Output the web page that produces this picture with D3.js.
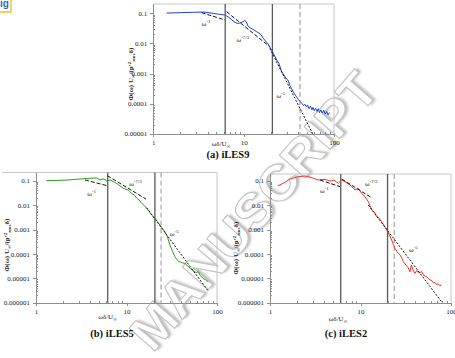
<!DOCTYPE html>
<html lang="en">
<head>
<meta charset="UTF-8">
<title>Wall pressure spectra</title>
<script src="https://d3js.org/d3.v7.min.js"></script>
<style>
  html, body { margin: 0; padding: 0; background: #fff; }
  svg { display: block; font-family: 'Liberation Serif', 'Times New Roman', serif; }
  .axis path, .axis line { stroke: #8e8e8e; shape-rendering: crispEdges; }
  .axis text { font-size: 7px; fill: #222; font-family: 'Liberation Serif', serif; }
</style>
</head>
<body>
<div id="chart"></div>
<script>
// ---- data ----
const xTickLabels = ["1", "10", "100"];
const yTickLabelsA = ["0.1", "0.01", "0.001", "0.0001", "0.00001"];
const yTickLabelsBC = ["0.1", "0.01", "0.001", "0.0001", "0.00001", "0.000001"];
const fitExponents = ["-1", "-7/3", "-5"];

// (a) iLES9
const freqA = [1.4, 2, 2.8, 3.6, 4.6, 5.4, 6.2, 6.8, 7.4, 8.0, 8.6, 9.2, 9.8, 10.3, 10.7, 11.2, 12, 13, 13.9, 14.8,
  15.7, 16.4, 17.5, 18.7, 19.5, 20.3, 21.5, 23.2, 24.5, 26.2, 27.5, 28.6, 30, 31, 32.5, 33.8, 35, 36.5, 38.5, 40,
  41.7, 43, 44.5, 46, 47.5, 49.5, 51, 53, 55, 57, 58.5, 60.5, 62.5, 65, 67, 69, 71.5, 74, 77, 80, 83, 86, 89];
const psdA = [0.102, 0.105, 0.108, 0.11, 0.1, 0.092, 0.088, 0.075, 0.06, 0.05, 0.046, 0.048, 0.052, 0.058, 0.052, 0.037, 0.032, 0.028, 0.0245, 0.022,
  0.019, 0.015, 0.012, 0.0095, 0.0075, 0.006, 0.0045, 0.0028, 0.0022, 0.0012, 0.00095, 0.0008, 0.00065, 0.0006, 0.0004, 0.00032, 0.00026, 0.00021, 0.00017, 0.00014,
  0.00012, 0.00011, 0.0001, 0.000085, 0.000095, 0.000078, 0.00009, 0.000068, 0.000082, 0.000062, 0.000075, 0.000058, 0.00007, 0.000055, 0.000068, 0.00005, 0.000062, 0.000048, 0.00006, 0.000045, 0.000055, 0.000042, 0.00005];
const fitsA = [[3.43, 0.105, 6.2, 0.06], [6.47, 0.113, 19.5, 0.0077], [19.5, 0.0068, 58, 0.00001]];
const fitLabelPosA = [[3.43, 0.0377], [8.35, 0.0113], [23.1, 0.000158]];
const solidLinesA = [6.25, 20.8];
const dashedLineA = [42];

// (b) iLES5
const freqB = [1.3, 2.2, 3.0, 3.9, 4.7, 5.1, 5.5, 5.8, 6.0, 6.6, 7.4, 8.2, 9.2, 10.4, 11.4, 12.2, 13, 13.8, 14.7, 15.7,
  16.7, 17.8, 19, 20.6, 22, 23.4, 25, 26.6, 28.3, 30.2, 32.2, 34.3, 36, 37.5, 39.5, 41.5, 44.3, 47, 50.5, 53,
  56, 59.6, 62, 65, 67.8, 71, 74, 77, 80.2];
const psdB = [0.1, 0.106, 0.117, 0.125, 0.13, 0.107, 0.118, 0.114, 0.096, 0.107, 0.086, 0.068, 0.049, 0.042, 0.03, 0.026, 0.019, 0.016, 0.0118, 0.0098,
  0.0074, 0.0055, 0.0039, 0.0029, 0.0021, 0.0015, 0.0011, 0.00081, 0.0005, 0.00023, 0.00013, 0.000077, 0.00006, 0.000049, 0.000046, 0.000043, 0.000041, 0.000033, 0.000026, 0.000022,
  0.000019, 0.000017, 0.000019, 0.000013, 0.0000115, 0.0000095, 0.000009, 0.0000078, 0.0000074];
const fitsB = [[3.48, 0.107, 6.15, 0.062], [6.15, 0.16, 16.4, 0.0178], [16.7, 0.0078, 80, 0.000003]];
const fitLabelPosB = [[3.69, 0.0242], [10.7, 0.0624], [30.3, 0.00054]];
const solidLinesB = [6.2, 20.6];
const dashedLineB = [24.1];

// (c) iLES2
const freqC = [1.22, 1.4, 1.66, 2.05, 2.44, 2.89, 3.42, 4.05, 4.5, 4.8, 5.1, 5.4, 5.69, 6.2, 6.74, 7.66, 8.7, 9.46, 10.3, 11.2,
  12.2, 13.3, 14.2, 15.1, 16, 17.1, 18.3, 19.5, 20.8, 22.1, 23, 24, 25.5, 27.3, 28.5, 29.8, 31.7, 33.5, 35.2, 36.5,
  38, 40, 42, 44, 47.5, 50, 53, 56.2, 59, 62, 64, 66.5, 69, 72, 75, 78.6];
const psdC = [0.062, 0.078, 0.117, 0.146, 0.156, 0.133, 0.107, 0.114, 0.1, 0.097, 0.107, 0.09, 0.078, 0.107, 0.091, 0.067, 0.042, 0.049, 0.03, 0.022,
  0.0138, 0.0063, 0.0052, 0.0034, 0.0029, 0.0021, 0.0014, 0.00095, 0.0006, 0.00037, 0.00025, 0.00017, 0.00012, 0.000091, 0.00007, 0.000048, 0.000035, 0.000028, 0.0000186, 0.000035,
  0.000022, 0.000016, 0.000021, 0.000017, 0.0000186, 0.000013, 0.000012, 0.0000099, 0.0000085, 0.0000078, 0.0000065, 0.0000068, 0.0000055, 0.000006, 0.000005, 0.0000053];
const fitsC = [[3.57, 0.107, 5.93, 0.057], [6.2, 0.117, 13.3, 0.02], [12.2, 0.01, 78.6, 0.0000011]];
const fitLabelPosC = [[3.57, 0.0304], [11.2, 0.0624], [34.4, 0.000116]];
const solidLinesC = [6.05, 19.9];
const dashedLineC = [23.6];

// ---- layout ----
const W = 455, H = 358;
const svg = d3.select("#chart").append("svg").attr("width", W).attr("height", H);

// watermark (behind everything)
const defs = svg.append("defs");
defs.append("filter").attr("id", "blur")
  .append("feGaussianBlur").attr("stdDeviation", 1.2);

const wm = svg.append("g").attr("transform", "translate(254,211) rotate(-49)");
function wmText(g) {
  return g.append("text")
    .attr("text-anchor", "middle").attr("dominant-baseline", "central")
    .attr("textLength", 348).attr("lengthAdjust", "spacingAndGlyphs")
    .style("font-family", "'Liberation Sans', Arial, sans-serif")
    .style("font-weight", "bold").style("font-size", "50px")
    .text("MANUSCRIPT");
}
wmText(wm).attr("x", 2.5).attr("y", 2).attr("fill", "#bdbdbd").attr("filter", "url(#blur)");
wmText(wm).attr("fill", "#fff").attr("stroke", "#c4c4c4").attr("stroke-width", 1.1);

// corner logo remnant
svg.append("rect").attr("x", -20).attr("y", -20).attr("width", 31).attr("height", 32)
  .attr("fill", "#fff").attr("stroke", "#f2c23a").attr("stroke-width", 1.5);
svg.append("text").attr("x", 0).attr("y", 7).attr("fill", "#2a6bb5")
  .style("font-family", "'Liberation Sans', sans-serif").style("font-weight", "bold").style("font-size", "10px")
  .text("ig");

function minorValues(lo, hi) {
  const out = [];
  for (let e = Math.round(Math.log10(lo)); e < Math.round(Math.log10(hi)); e++) {
    for (let k = 2; k <= 9; k++) out.push(k * Math.pow(10, e));
  }
  return out;
}

function drawPanel(p) {
  const x = d3.scaleLog().domain([1, 100]).range([p.left, p.right]);
  const y = d3.scaleLog().domain([p.yMin, 0.1]).range([p.bottom, p.yTop]);
  const g = svg.append("g");

  // frame (top / right)
  g.append("path")
    .attr("d", `M${p.frameLeft},${p.top}H${p.right}V${p.bottom}`)
    .attr("fill", "none").attr("stroke", "#c6c6c6").attr("stroke-width", 1);

  // y axis
  const yMajor = p.yLabels.map(s => +s);
  g.append("g").attr("class", "axis").attr("transform", `translate(${p.left},0)`)
    .call(d3.axisLeft(y).tickValues(yMajor).tickFormat((d, i) => p.yLabels[i]).tickSizeInner(3).tickSizeOuter(0).tickPadding(3))
    .call(a => a.select(".domain").attr("d", `M0,${p.top}V${p.bottom}`));
  g.append("g").attr("class", "axis").attr("transform", `translate(${p.left},0)`)
    .call(d3.axisLeft(y).tickValues(minorValues(p.yMin, 0.1)).tickFormat("").tickSizeInner(-2).tickSizeOuter(0))
    .call(a => a.select(".domain").remove());

  // x axis
  g.append("g").attr("class", "axis").attr("transform", `translate(0,${p.bottom})`)
    .call(d3.axisBottom(x).tickValues(xTickLabels.map(s => +s)).tickFormat((d, i) => xTickLabels[i]).tickSizeInner(3).tickSizeOuter(0).tickPadding(3));
  g.append("g").attr("class", "axis").attr("transform", `translate(0,${p.bottom})`)
    .call(d3.axisBottom(x).tickValues(minorValues(1, 100)).tickFormat("").tickSizeInner(-2).tickSizeOuter(0))
    .call(a => a.select(".domain").remove());

  // vertical markers
  g.selectAll(".vsolid").data(p.solid).join("line")
    .attr("x1", d => x(d)).attr("x2", d => x(d))
    .attr("y1", p.top).attr("y2", p.bottom)
    .attr("stroke", "#5a5a5a").attr("stroke-width", 1.3);
  g.selectAll(".vdash").data(p.dashed).join("line")
    .attr("x1", d => x(d)).attr("x2", d => x(d))
    .attr("y1", p.top).attr("y2", p.bottom)
    .attr("stroke", "#ababab").attr("stroke-width", 1.3).attr("stroke-dasharray", "5,3");

  // spectrum
  const line = d3.line().x(d => x(d[0])).y(d => y(d[1]));
  g.append("path")
    .datum(p.freq.map((f, i) => [f, p.psd[i]]))
    .attr("d", line)
    .attr("fill", "none").attr("stroke", p.color).attr("stroke-width", 1);

  // power-law slopes
  g.selectAll(".fit").data(p.fits).join("line")
    .attr("x1", d => x(d[0])).attr("y1", d => y(d[1]))
    .attr("x2", d => x(d[2])).attr("y2", d => y(d[3]))
    .attr("stroke", "#111").attr("stroke-width", 1)
    .attr("stroke-dasharray", (d, i) => i === 2 ? "2,1.6" : "4,2");

  p.fitLabels.forEach((pos, i) => {
    const t = g.append("text").attr("x", x(pos[0])).attr("y", y(pos[1]))
      .style("font-size", "7px").attr("fill", "#222");
    t.append("tspan").text("ω");
    t.append("tspan").attr("dy", -3).style("font-size", "5px").text(fitExponents[i]);
  });

  // axis titles
  const xl = g.append("text").attr("x", p.xLabel[0]).attr("y", p.xLabel[1])
    .attr("text-anchor", "middle").style("font-size", "7px").attr("fill", "#222");
  xl.append("tspan").text("ωδ/U");
  xl.append("tspan").attr("dy", 1.5).style("font-size", "5px").text("∞");

  const yl = g.append("text")
    .attr("transform", `translate(${p.yLabel[0]},${p.yLabel[1]}) rotate(-90)`)
    .attr("text-anchor", "middle").style("font-size", "7px").style("font-weight", "bold").attr("fill", "#222");
  yl.append("tspan").text("Φ(ω) U");
  yl.append("tspan").attr("dy", 1.5).style("font-size", "5px").text("∞");
  yl.append("tspan").attr("dy", -1.5).text("/(p'");
  yl.append("tspan").attr("dy", -2.5).style("font-size", "5px").text("2");
  yl.append("tspan").attr("dy", 4).style("font-size", "5px").text("rms");
  yl.append("tspan").attr("dy", -1.5).text("δ)");

  g.append("text").attr("x", p.title[0]).attr("y", p.title[1])
    .attr("text-anchor", "middle").style("font-size", "10.5px").style("font-weight", "bold").attr("fill", "#111")
    .text(p.titleText);
}

drawPanel({
  left: 153.3, frameLeft: 153.3, right: 334, top: 4, bottom: 133.7, yTop: 13.3, yMin: 1e-5,
  yLabels: yTickLabelsA, freq: freqA, psd: psdA, color: "#1f3fd0",
  fits: fitsA, fitLabels: fitLabelPosA, solid: solidLinesA, dashed: dashedLineA,
  xLabel: [221, 146], yLabel: [133, 74], title: [228, 157.5], titleText: "(a) iLES9"
});
drawPanel({
  left: 36, frameLeft: 2, right: 217, top: 172.5, bottom: 302.7, yTop: 180.7, yMin: 1e-6,
  yLabels: yTickLabelsBC, freq: freqB, psd: psdB, color: "#2e9a22",
  fits: fitsB, fitLabels: fitLabelPosB, solid: solidLinesB, dashed: dashedLineB,
  xLabel: [107.5, 319], yLabel: [9, 245], title: [112, 337], titleText: "(b) iLES5"
});
drawPanel({
  left: 270, frameLeft: 270, right: 451, top: 174, bottom: 302.7, yTop: 180.7, yMin: 1e-6,
  yLabels: yTickLabelsBC, freq: freqC, psd: psdC, color: "#ee3322",
  fits: fitsC, fitLabels: fitLabelPosC, solid: solidLinesC, dashed: dashedLineC,
  xLabel: [338, 321], yLabel: [238, 248], title: [346, 337], titleText: "(c) iLES2"
});
</script>
</body>
</html>
